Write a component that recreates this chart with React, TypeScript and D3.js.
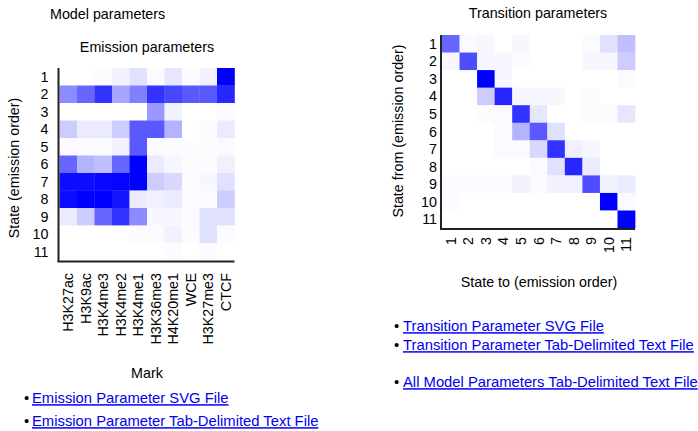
import React from "react";
import * as d3 from "d3";

const marks = ["H3K27ac", "H3K9ac", "H3K4me3", "H3K4me2", "H3K4me1", "H3K36me3", "H4K20me1", "WCE", "H3K27me3", "CTCF"];
const states = ["1", "2", "3", "4", "5", "6", "7", "8", "9", "10", "11"];
const stateToLabels = ["1", "2", "3", "4", "5", "6", "7", "8", "9", "10", "11"];

const emission: number[][] = [
  [0, 0, 0.01, 0.05, 0.12, 0.02, 0.1, 0.02, 0.05, 1.0],
  [0.45, 0.6, 0.8, 0.35, 0.5, 0.8, 0.72, 0.65, 0.65, 0.85],
  [0, 0, 0, 0, 0, 0.4, 0.05, 0, 0, 0.02],
  [0.2, 0.08, 0.08, 0.2, 0.65, 0.65, 0.3, 0, 0.02, 0.08],
  [0.02, 0.02, 0.02, 0.05, 0.65, 0.02, 0.02, 0.01, 0.01, 0.02],
  [0.6, 0.3, 0.25, 0.6, 1.0, 0.08, 0.03, 0.01, 0.01, 0.06],
  [0.95, 0.95, 0.97, 0.98, 1.0, 0.2, 0.15, 0.02, 0.03, 0.12],
  [0.95, 1.0, 1.0, 0.92, 0.08, 0.06, 0.08, 0.02, 0.02, 0.2],
  [0.08, 0.2, 0.6, 0.8, 0.45, 0.03, 0.03, 0.02, 0.12, 0.12],
  [0, 0, 0, 0, 0.01, 0.02, 0.05, 0.01, 0.12, 0.01],
  [0, 0, 0, 0, 0, 0, 0.01, 0, 0.01, 0],
];

const transition: number[][] = [
  [0.6, 0.02, 0.03, 0, 0.03, 0, 0, 0, 0.02, 0.12, 0.25],
  [0.03, 0.7, 0.03, 0.03, 0.01, 0, 0, 0, 0.03, 0.03, 0.2],
  [0, 0, 1.0, 0.03, 0, 0, 0, 0, 0, 0, 0.02],
  [0, 0, 0.2, 0.85, 0.03, 0.03, 0.03, 0, 0.01, 0, 0],
  [0, 0, 0.01, 0.02, 0.8, 0.1, 0, 0, 0.01, 0.02, 0.1],
  [0, 0, 0, 0.02, 0.3, 0.65, 0.12, 0, 0, 0, 0],
  [0, 0, 0, 0.02, 0.02, 0.15, 0.8, 0.06, 0.03, 0, 0],
  [0, 0, 0, 0, 0, 0.02, 0.12, 0.85, 0.08, 0, 0],
  [0.02, 0.02, 0.02, 0.02, 0.05, 0.02, 0.05, 0.06, 0.7, 0.05, 0.08],
  [0.02, 0, 0, 0, 0, 0, 0, 0, 0, 1.0, 0.02],
  [0, 0, 0, 0, 0, 0, 0, 0, 0, 0, 1.0],
];

const emissionLinks = ["Emission Parameter SVG File", "Emission Parameter Tab-Delimited Text File"];
const transitionLinks = ["Transition Parameter SVG File", "Transition Parameter Tab-Delimited Text File"];
const allLinks = ["All Model Parameters Tab-Delimited Text File"];

const FONT = "'Liberation Sans', Arial, Helvetica, sans-serif";
const FS = 14.3;
const LFS = 14.8;
const LINK = "#0000ee";

const color = d3.scaleLinear<string>().domain([0, 1]).range(["#ffffff", "#0000ff"]).clamp(true);

function Heatmap(props: {
  data: number[][];
  cols: string[];
  rows: string[];
  x0: number;
  y0: number;
  cell: number;
  rowGap: number;
  colLabelTop: number;
}) {
  const { data, cols, rows, x0, y0, cell, rowGap, colLabelTop } = props;
  const x = d3.scaleBand<string>().domain(cols).range([x0, x0 + cell * cols.length]);
  const y = d3.scaleBand<string>().domain(rows).range([y0, y0 + cell * rows.length]);
  const right = x0 + cell * cols.length;
  const bottom = y0 + cell * rows.length;
  return (
    <g>
      {data.map((row, i) =>
        row.map((v, j) => (
          <rect
            key={`${i}-${j}`}
            x={x(cols[j])!}
            y={y(rows[i])!}
            width={x.bandwidth() + 0.3}
            height={y.bandwidth() + 0.3}
            fill={color(v)}
          />
        ))
      )}
      <line x1={x0 - 1} x2={x0 - 1} y1={y0} y2={bottom + 1} stroke="#222" strokeWidth={2} />
      <line x1={x0 - 2} x2={right} y1={bottom + 1} y2={bottom + 1} stroke="#222" strokeWidth={2} />
      {rows.map((r) => (
        <text
          key={r}
          x={x0 - rowGap}
          y={y(r)! + y.bandwidth() / 2}
          dy="0.35em"
          textAnchor="end"
          fontSize={FS}
          fontFamily={FONT}
          fill="#000"
        >
          {r}
        </text>
      ))}
      {cols.map((c) => (
        <text
          key={c}
          transform={`translate(${x(c)! + x.bandwidth() / 2},${colLabelTop}) rotate(-90)`}
          dy="0.35em"
          textAnchor="end"
          fontSize={FS}
          fontFamily={FONT}
          fill="#000"
        >
          {c}
        </text>
      ))}
    </g>
  );
}

function Links(props: { items: string[]; xb: number; xt: number; ys: number[] }) {
  const { items, xb, xt, ys } = props;
  return (
    <g>
      {items.map((t, i) => (
        <g key={t}>
          <text x={xb} y={ys[i]} dy="0.35em" fontSize={LFS} fontFamily={FONT} fill="#000">
            •
          </text>
          <text
            x={xt}
            y={ys[i]}
            dy="0.35em"
            fontSize={LFS}
            fontFamily={FONT}
            fill={LINK}
            style={{ textDecoration: "underline" }}
          >
            {t}
          </text>
        </g>
      ))}
    </g>
  );
}

export default function App() {
  return (
    <svg
      width={698}
      height={431}
      style={{ position: "absolute", left: 0, top: 0, display: "block", background: "#fff" }}
    >
      <text x={50} y={14} dy="0.35em" fontSize={FS} fontFamily={FONT}>
        Model parameters
      </text>
      <text x={147} y={47} dy="0.35em" textAnchor="middle" fontSize={FS} fontFamily={FONT}>
        Emission parameters
      </text>
      <text x={538} y={13} dy="0.35em" textAnchor="middle" fontSize={FS} fontFamily={FONT}>
        Transition parameters
      </text>

      <Heatmap data={emission} cols={marks} rows={states} x0={59.5} y0={68} cell={17.5} rowGap={11} colLabelTop={273} />
      <text
        transform="translate(14,168) rotate(-90)"
        dy="0.35em"
        textAnchor="middle"
        fontSize={FS}
        fontFamily={FONT}
      >
        State (emission order)
      </text>
      <text x={147} y={373} dy="0.35em" textAnchor="middle" fontSize={FS} fontFamily={FONT}>
        Mark
      </text>

      <Heatmap
        data={transition}
        cols={stateToLabels}
        rows={states}
        x0={442}
        y0={35}
        cell={17.55}
        rowGap={5}
        colLabelTop={237}
      />
      <text
        transform="translate(398,131) rotate(-90)"
        dy="0.35em"
        textAnchor="middle"
        fontSize={FS}
        fontFamily={FONT}
      >
        State from (emission order)
      </text>
      <text x={539} y={282} dy="0.35em" textAnchor="middle" fontSize={FS} fontFamily={FONT}>
        State to (emission order)
      </text>

      <Links items={emissionLinks} xb={24} xt={32} ys={[398, 421]} />
      <Links items={transitionLinks} xb={394} xt={403} ys={[326, 345]} />
      <Links items={allLinks} xb={394} xt={403} ys={[382]} />
    </svg>
  );
}
